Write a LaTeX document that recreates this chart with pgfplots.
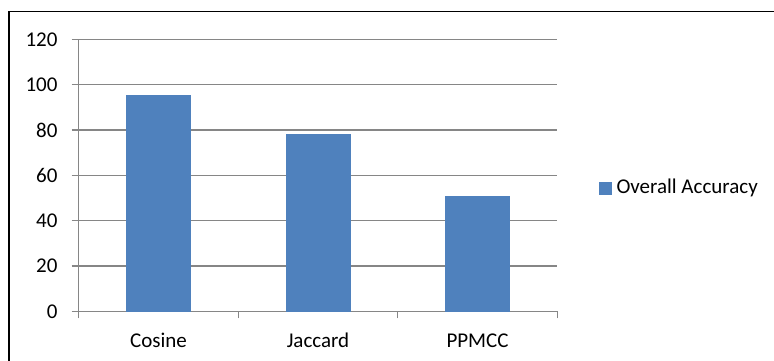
\documentclass[border=0pt]{standalone}
\usepackage{pgfplots}
\pgfplotsset{compat=1.18}
\usepackage{fontspec}
\setmainfont{Carlito}
\definecolor{barblue}{HTML}{4F81BD}
\definecolor{gridgray}{HTML}{868686}
\begin{document}
\fontsize{21}{25}\selectfont
\begin{tikzpicture}
\useasboundingbox (0pt,0pt) rectangle (774pt,360pt);
\draw[line width=1.3pt, black] (9pt,-10pt) -- (9pt,348.5pt) -- (790pt,348.5pt);
\begin{axis}[
  at={(78.7pt,48.7pt)}, anchor=south west,
  scale only axis, width=478.6pt, height=272pt,
  xmin=-0.5, xmax=2.5, ymin=0, ymax=120,
  axis x line*=bottom, axis y line*=left,
  axis line style={gridgray, line width=1.2pt, -},
  ytick={0,20,...,120}, ymajorgrids,
  grid style={gridgray, line width=1.2pt},
  xtick={-0.5,0.5,1.5,2.5}, xticklabels={},
  extra x ticks={0,1,2}, extra x tick labels={Cosine,Jaccard,PPMCC},
  extra x tick style={major tick length=0pt, grid=none,
    xticklabel style={yshift=-15pt, text height=14pt, text depth=4pt}},
  tick align=outside, major tick length=7pt,
  tick style={gridgray, line width=1.2pt},
  tick label style={font=\fontsize{21}{25}\selectfont, black},
  yticklabel style={xshift=-7pt},
  /pgf/number format/assume math mode=true,
  ybar, bar width=64pt,
  legend style={at={(1.087,0.453)}, anchor=west, draw=none, fill=none, inner sep=0pt,
    font=\fontsize{21}{25}\selectfont,
    nodes={inner xsep=5pt}},
  legend image code/.code={\fill[barblue] (0pt,-6pt) rectangle (12pt,6pt);},
]
\addplot[fill=barblue, draw=barblue] coordinates {(0,95.4) (1,78.1) (2,50.6)};
\addlegendentry{Overall Accuracy}
\end{axis}
\end{tikzpicture}
\end{document}
